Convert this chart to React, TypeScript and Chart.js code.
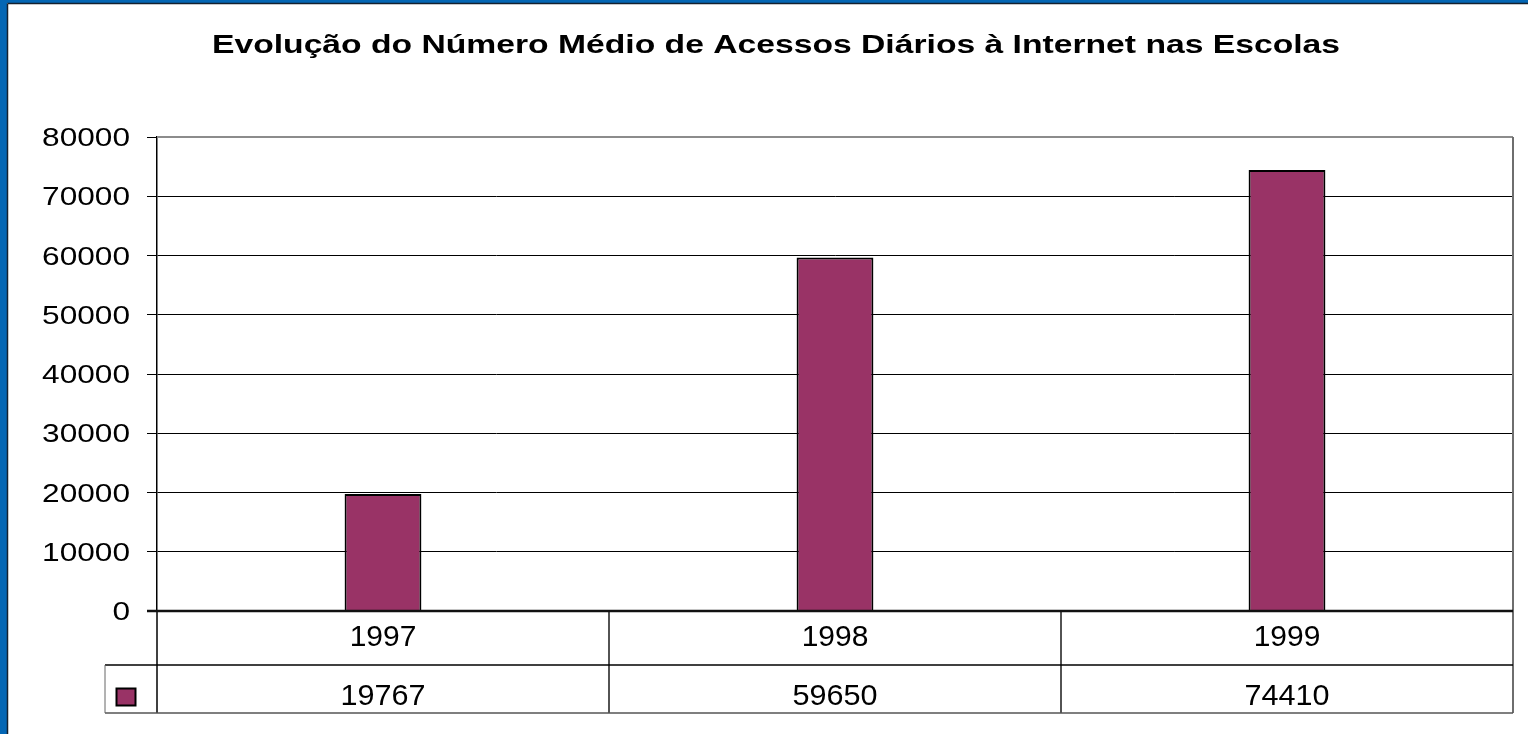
import React, { useEffect, useRef } from "react";
import { Chart, registerables } from "chart.js";

Chart.register(...registerables);

const TITLE = "Evolução do Número Médio de Acessos Diários à Internet nas Escolas";
const categories = ["1997", "1998", "1999"];
const values = [19767, 59650, 74410];
const yTicks = [0, 10000, 20000, 30000, 40000, 50000, 60000, 70000, 80000];
const BAR_COLOR = "#993366";
const FONT = '"Liberation Sans", Arial, Helvetica, sans-serif';

function drawStretched(
  ctx: CanvasRenderingContext2D,
  text: string,
  x: number,
  y: number,
  size: number,
  weight: string,
  sx: number,
  align: CanvasTextAlign
) {
  ctx.save();
  ctx.font = `${weight} ${size}px ${FONT}`;
  ctx.textBaseline = "alphabetic";
  ctx.textAlign = align;
  ctx.fillStyle = "#000";
  ctx.translate(x, y);
  ctx.scale(sx, 1);
  ctx.fillText(text, 0, 0);
  ctx.restore();
}

function line(ctx: CanvasRenderingContext2D, x1: number, y1: number, x2: number, y2: number, color: string, w: number) {
  ctx.save();
  ctx.strokeStyle = color;
  ctx.lineWidth = w;
  ctx.beginPath();
  ctx.moveTo(x1, y1);
  ctx.lineTo(x2, y2);
  ctx.stroke();
  ctx.restore();
}

const decorPlugin = {
  id: "decor",
  afterDraw(chart: any) {
    const ctx: CanvasRenderingContext2D = chart.ctx;
    const area = chart.chartArea;
    const y = chart.scales.y;
    const W = chart.width;
    const H = chart.height;

    // frame
    ctx.save();
    ctx.fillStyle = "#0366B4";
    ctx.fillRect(0, 0, W, 3);
    ctx.fillRect(0, 0, 7, H);
    ctx.restore();
    line(ctx, 7.5, 3.5, 7.5, H, "#14202e", 1.5);
    line(ctx, 7.5, 3.5, W, 3.5, "#14202e", 1.5);

    // title
    ctx.save();
    ctx.font = `bold 25.5px ${FONT}`;
    const tw = ctx.measureText(TITLE).width;
    ctx.restore();
    drawStretched(ctx, TITLE, 776, 53, 25.5, "bold", 1128 / tw, "center");

    // y tick labels
    yTicks.forEach((v) => {
      const py = y.getPixelForValue(v);
      drawStretched(ctx, String(v), 130, py + 9, 25, "normal", 1.265, "right");
    });

    // plot border top/right
    line(ctx, area.left, area.top, area.right, area.top, "#8c8c8c", 2);
    line(ctx, area.right, area.top, area.right, area.bottom + 102, "#6e6e6e", 2);

    // data table
    const row1Bottom = area.bottom + 54;
    const row2Bottom = area.bottom + 102;
    const legendLeft = 105;
    const n = categories.length;
    const cw = (area.right - area.left) / n;
    line(ctx, area.left, area.bottom, area.left, row2Bottom, "#000", 1.5);
    for (let i = 1; i < n; i++) {
      const x = area.left + cw * i;
      line(ctx, x, area.bottom, x, row2Bottom, "#1a1a1a", 1.5);
    }
    line(ctx, legendLeft, row1Bottom, area.right, row1Bottom, "#000", 1.5);
    line(ctx, legendLeft, row2Bottom, area.right, row2Bottom, "#555", 1.5);
    line(ctx, legendLeft, row1Bottom, legendLeft, row2Bottom, "#666", 1);

    categories.forEach((c, i) => {
      const cx = area.left + cw * (i + 0.5);
      drawStretched(ctx, c, cx, area.bottom + 35, 30, "normal", 1, "center");
      drawStretched(ctx, String(values[i]), cx, row1Bottom + 40, 30, "normal", 1.02, "center");
    });

    // legend key
    ctx.save();
    ctx.fillStyle = BAR_COLOR;
    ctx.fillRect(116.5, 688.5, 19, 17);
    ctx.strokeStyle = "#000";
    ctx.lineWidth = 2;
    ctx.strokeRect(116.5, 688.5, 19, 17);
    ctx.restore();

    // x axis line (thicker)
    line(ctx, area.left - 10, area.bottom, area.right, area.bottom, "#111", 2.5);
  },
};

export default function App() {
  const ref = useRef<HTMLCanvasElement | null>(null);
  useEffect(() => {
    document.body.style.margin = "0";
    const canvas = ref.current!;
    const chart = new Chart(canvas, {
      type: "bar",
      data: {
        labels: categories,
        datasets: [
          {
            data: values,
            backgroundColor: BAR_COLOR,
            borderColor: "#000",
            borderWidth: 2,
            categoryPercentage: 1,
            barPercentage: 0.17,
          },
        ],
      },
      options: {
        animation: false,
        responsive: false,
        devicePixelRatio: 1,
        layout: { padding: { left: 0, top: 137, right: 15, bottom: 123 } },
        plugins: {
          legend: { display: false },
          tooltip: { enabled: false },
          title: { display: false },
        },
        scales: {
          x: { display: false },
          y: {
            min: 0,
            max: 80000,
            afterFit: (scale: any) => {
              scale.width = 157;
            },
            ticks: { display: false, stepSize: 10000 },
            grid: {
              color: "#000",
              lineWidth: 1,
              drawTicks: true,
              tickLength: 10,
              tickColor: "#000",
            },
            border: { display: true, color: "#000", width: 1.5 },
          },
        },
      },
      plugins: [decorPlugin],
    });
    return () => chart.destroy();
  }, []);
  return (
    <div style={{ position: "absolute", left: 0, top: 0, width: 1528, height: 734, background: "#fff" }}>
      <canvas ref={ref} width={1528} height={734} />
    </div>
  );
}
